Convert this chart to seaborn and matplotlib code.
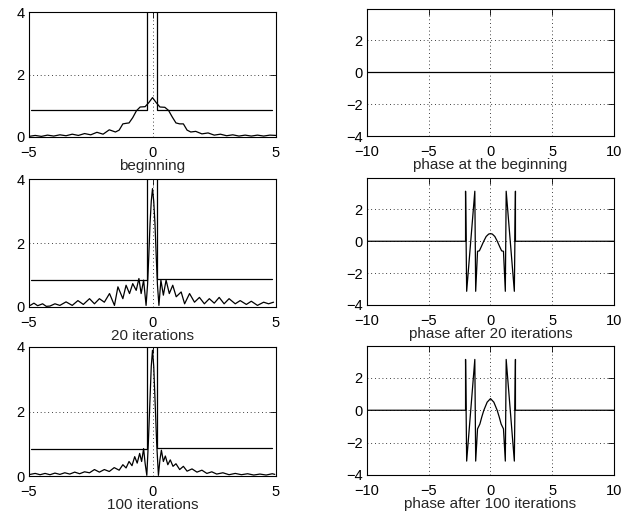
import numpy as np
import pandas as pd
import matplotlib
matplotlib.use("Agg")
import matplotlib.pyplot as plt
import seaborn as sns

sns.set_style("white")
plt.rcParams['font.family'] = ['Liberation Sans', 'DejaVu Sans']

# ---------------- data ----------------
titles_left = ["beginning", "20 iterations", "100 iterations"]
titles_right = ["phase at the beginning", "phase after 20 iterations", "phase after 100 iterations"]

# amplitude constraint (same in all three left panels)
bound_x = [-4.92, -0.22, -0.22, 0.2, 0.2, 4.85]
bound_y = [0.85, 0.85, 10.0, 10.0, 0.88, 0.88]

# amplitude at the beginning
amp0_x = [-5.0, -4.75, -4.5, -4.25, -4.0, -3.75, -3.5, -3.25, -3.0, -2.75,
          -2.5, -2.25, -2.0, -1.75, -1.5, -1.35, -1.2, -1.05, -0.95, -0.8,
          -0.65, -0.5, -0.3, -0.15, 0.0, 0.15, 0.3, 0.5, 0.65, 0.8,
          0.95, 1.1, 1.25, 1.4, 1.55, 1.75, 2.0, 2.25, 2.5, 2.75,
          3.0, 3.25, 3.5, 3.75, 4.0, 4.25, 4.5, 4.75, 5.0]
amp0_y = [0.02, 0.05, 0.02, 0.06, 0.03, 0.07, 0.04, 0.09, 0.05, 0.11,
          0.07, 0.15, 0.09, 0.23, 0.16, 0.22, 0.42, 0.44, 0.45, 0.62,
          0.84, 0.96, 0.97, 1.1, 1.26, 1.1, 0.96, 0.95, 0.85, 0.64,
          0.45, 0.42, 0.42, 0.22, 0.16, 0.18, 0.1, 0.13, 0.06, 0.09,
          0.04, 0.07, 0.03, 0.06, 0.03, 0.06, 0.03, 0.06, 0.05]

# amplitude after 20 iterations
amp20_x = [-4.95, -4.8, -4.65, -4.45, -4.3, -4.15, -3.95, -3.75, -3.5, -3.25,
           -3.02, -2.8, -2.55, -2.35, -2.15, -1.95, -1.74, -1.54, -1.4, -1.2,
           -1.07, -0.93, -0.8, -0.66, -0.55, -0.46, -0.36, -0.26, -0.2, -0.15,
           -0.1, -0.05, 0.0, 0.05, 0.1, 0.15, 0.2, 0.26, 0.34, 0.44,
           0.55, 0.68, 0.82, 0.96, 1.16, 1.3, 1.5, 1.7, 1.9, 2.1,
           2.3, 2.5, 2.7, 2.9, 3.1, 3.35, 3.55, 3.8, 4.0, 4.25,
           4.5, 4.7, 4.9]
amp20_y = [0.05, 0.12, 0.04, 0.1, 0.02, 0.03, 0.1, 0.05, 0.16, 0.05,
           0.2, 0.08, 0.26, 0.1, 0.26, 0.15, 0.42, 0.05, 0.63, 0.26,
           0.68, 0.42, 0.73, 0.52, 0.89, 0.42, 0.84, 0.05, 0.7, 1.6,
           2.6, 3.3, 3.7, 3.3, 2.6, 1.6, 0.7, 0.05, 0.84, 0.37,
           0.84, 0.42, 0.68, 0.32, 0.47, 0.1, 0.42, 0.15, 0.3, 0.1,
           0.26, 0.12, 0.3, 0.1, 0.26, 0.1, 0.2, 0.08, 0.18, 0.05,
           0.15, 0.1, 0.15]

# amplitude after 100 iterations
amp100_x = [-4.95, -4.75, -4.55, -4.35, -4.15, -3.95, -3.75, -3.55, -3.35, -3.15,
            -2.95, -2.75, -2.55, -2.35, -2.15, -1.95, -1.75, -1.55, -1.35, -1.2,
            -1.07, -0.95, -0.83, -0.72, -0.62, -0.52, -0.44, -0.36, -0.3, -0.23,
            -0.17, -0.11, -0.05, 0.0, 0.05, 0.11, 0.17, 0.24, 0.3, 0.36,
            0.44, 0.52, 0.62, 0.72, 0.83, 0.95, 1.1, 1.25, 1.4, 1.6,
            1.8, 2.0, 2.2, 2.4, 2.6, 2.85, 3.1, 3.35, 3.6, 3.85,
            4.1, 4.35, 4.6, 4.85, 4.95]
amp100_y = [0.05, 0.08, 0.04, 0.08, 0.04, 0.09, 0.05, 0.1, 0.06, 0.12,
            0.07, 0.13, 0.1, 0.2, 0.12, 0.2, 0.14, 0.26, 0.18, 0.35,
            0.25, 0.45, 0.32, 0.6, 0.4, 0.7, 0.45, 0.85, 0.4, 0.02,
            1.0, 2.2, 3.4, 3.9, 3.4, 2.2, 1.0, 0.02, 0.5, 0.8,
            0.45, 0.62, 0.35, 0.5, 0.3, 0.38, 0.2, 0.3, 0.15, 0.22,
            0.12, 0.18, 0.08, 0.13, 0.06, 0.1, 0.04, 0.08, 0.04, 0.07,
            0.03, 0.06, 0.03, 0.07, 0.05]

# phases
ph0_x = [-10.0, 10.0]
ph0_y = [0.0, 0.0]

ph20_x = [-10.0, -2.02, -2.02, -1.93, -1.27, -1.2, -1.05, -0.9, -0.75, -0.55,
          -0.35, -0.15, 0.0, 0.15, 0.35, 0.55, 0.75, 0.9, 1.05, 1.2,
          1.27, 1.93, 2.02, 2.02, 10.0]
ph20_y = [0.0, 0.0, 3.14, -3.14, 3.14, -3.14, -0.63, -0.6, -0.35, 0.0,
          0.3, 0.45, 0.48, 0.45, 0.3, 0.0, -0.35, -0.6, -0.63, -3.14,
          3.14, -3.14, 3.14, 0.0, 0.0]

ph100_x = [-10.0, -2.02, -2.02, -1.93, -1.27, -1.2, -1.05, -0.86, -0.7, -0.54,
           -0.27, 0.0, 0.27, 0.54, 0.7, 0.86, 1.05, 1.2, 1.27, 1.93,
           2.02, 2.02, 10.0]
ph100_y = [0.0, 0.0, 3.14, -3.14, 3.14, -3.14, -1.15, -0.85, -0.4, 0.0,
           0.5, 0.72, 0.5, 0.0, -0.4, -0.85, -1.15, -3.14, 3.14, -3.14,
           3.14, 0.0, 0.0]

left_ticks_x = [-5, 0, 5]
left_ticks_y = [0, 2, 4]
right_ticks_x = [-10, -5, 0, 5, 10]
right_ticks_y = [-4, -2, 0, 2]

amps = [(amp0_x, amp0_y), (amp20_x, amp20_y), (amp100_x, amp100_y)]
phases = [(ph0_x, ph0_y), (ph20_x, ph20_y), (ph100_x, ph100_y)]

# ---------------- figure ----------------
W, H = 639, 517
fig = plt.figure(figsize=(W / 100, H / 100), dpi=100)

left_rows = [(12, 137), (179, 307), (347, 476)]
right_rows = [(9, 136), (178, 305), (346, 475)]
lx0, lx1 = 29, 276
rx0, rx1 = 367, 614

def mk_ax(x0, x1, t, b):
    return fig.add_axes([x0 / W, 1 - b / H, (x1 - x0) / W, (b - t) / H])

def style(ax, xt, yt, xlim, ylim, label):
    ax.set_xlim(*xlim)
    ax.set_ylim(*ylim)
    ax.set_xticks(xt)
    ax.set_yticks(yt)
    ax.grid(True, color='black', linestyle=(0, (1, 3.5)), linewidth=0.6)
    for s in ax.spines.values():
        s.set_visible(True)
        s.set_color('black')
        s.set_linewidth(0.8)
    ax.tick_params(direction='in', length=4, width=0.6, top=True, right=True,
                   labelsize=10.5, colors='black')
    ax.tick_params(axis='x', pad=6.5)
    ax.tick_params(axis='y', pad=3)
    ax.set_xlabel(label, fontsize=11, labelpad=-0.5)
    ax.set_ylabel("")

for i in range(3):
    t, b = left_rows[i]
    ax = mk_ax(lx0, lx1, t, b)
    df_b = pd.DataFrame({"x": bound_x, "y": bound_y})
    sns.lineplot(data=df_b, x="x", y="y", sort=False, estimator=None,
                 color='black', linewidth=0.9, ax=ax)
    ax_x, ax_y = amps[i]
    df_a = pd.DataFrame({"x": ax_x, "y": ax_y})
    sns.lineplot(data=df_a, x="x", y="y", sort=False, estimator=None,
                 color='black', linewidth=0.9, ax=ax)
    style(ax, left_ticks_x, left_ticks_y, (-5, 5), (0, 4), titles_left[i])

    t, b = right_rows[i]
    ax2 = mk_ax(rx0, rx1, t, b)
    px, py = phases[i]
    df_p = pd.DataFrame({"x": px, "y": py})
    sns.lineplot(data=df_p, x="x", y="y", sort=False, estimator=None,
                 color='black', linewidth=0.9, ax=ax2)
    style(ax2, right_ticks_x, right_ticks_y, (-10, 10), (-4, 3.97), titles_right[i])

fig.savefig("out.png", dpi=100, facecolor='white')
